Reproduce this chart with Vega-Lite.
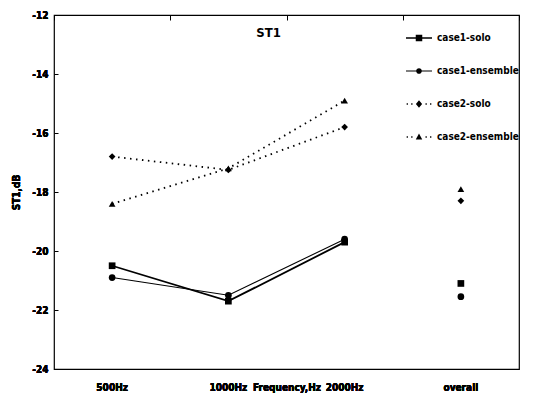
{
  "$schema": "https://vega.github.io/schema/vega-lite/v6.json",
  "width": 465,
  "height": 354,
  "autosize": "none",
  "padding": {"left": 54, "top": 15, "right": 18, "bottom": 24},
  "background": "white",
  "config": {
    "view": {"stroke": "black", "strokeWidth": 1.2},
    "font": "DejaVu Sans Condensed"
  },
  "title": {"text": "ST1", "anchor": "middle", "dx": -18, "offset": -30, "fontSize": 13, "fontWeight": "bold", "font": "DejaVu Sans Condensed", "color": "black"},
  "data": {
    "values": [
      {"series": "case1-solo", "freq": "500Hz", "value": -20.5},
      {"series": "case1-solo", "freq": "1000Hz", "value": -21.7},
      {"series": "case1-solo", "freq": "2000Hz", "value": -19.7},
      {"series": "case1-solo", "freq": "overall", "value": -21.1},
      {"series": "case1-ensemble", "freq": "500Hz", "value": -20.9},
      {"series": "case1-ensemble", "freq": "1000Hz", "value": -21.5},
      {"series": "case1-ensemble", "freq": "2000Hz", "value": -19.6},
      {"series": "case1-ensemble", "freq": "overall", "value": -21.55},
      {"series": "case2-solo", "freq": "500Hz", "value": -16.8},
      {"series": "case2-solo", "freq": "1000Hz", "value": -17.25},
      {"series": "case2-solo", "freq": "2000Hz", "value": -15.8},
      {"series": "case2-solo", "freq": "overall", "value": -18.3},
      {"series": "case2-ensemble", "freq": "500Hz", "value": -18.4},
      {"series": "case2-ensemble", "freq": "1000Hz", "value": -17.2},
      {"series": "case2-ensemble", "freq": "2000Hz", "value": -14.9},
      {"series": "case2-ensemble", "freq": "overall", "value": -17.9}
    ]
  },
  "encoding": {
    "x": {
      "field": "freq", "type": "nominal",
      "sort": ["500Hz", "1000Hz", "2000Hz", "overall"],
      "scale": {"type": "band", "paddingInner": 0, "paddingOuter": 0, "domain": ["500Hz", "1000Hz", "2000Hz", "overall"]},
      "axis": {
        "orient": "bottom", "ticks": false, "domain": false, "grid": false,
        "labelAngle": 0, "labelPadding": 13, "labelFontSize": 10, "labelFontWeight": "bold", "labelColor": "black",
        "title": "Frequency,Hz", "titleY": 18, "titleBaseline": "middle", "titleFontSize": 10, "titleFontWeight": "bold", "titleColor": "black"
      }
    },
    "y": {
      "field": "value", "type": "quantitative",
      "scale": {"domain": [-24, -12], "nice": false, "zero": false},
      "axis": {
        "orient": "left",
        "values": [-24, -22, -20, -18, -16, -14, -12],
        "labelExpr": "'' + datum.value",
        "grid": false, "domain": false, "ticks": false,
        "labelPadding": 6, "labelFontSize": 10, "labelFontWeight": "bold", "labelColor": "black",
        "title": "ST1,dB", "titleFontSize": 10, "titleFontWeight": "bold", "titleColor": "black", "titlePadding": 10
      }
    }
  },
  "layer": [
    {
      "transform": [{"filter": "datum.freq != 'overall' && datum.series == 'case1-solo'"}],
      "mark": {"type": "line", "color": "black", "strokeWidth": 1.8},
      "encoding": {}
    },
    {
      "transform": [{"filter": "datum.freq != 'overall' && datum.series == 'case1-ensemble'"}],
      "mark": {"type": "line", "color": "black", "strokeWidth": 1.1},
      "encoding": {}
    },
    {
      "transform": [{"filter": "datum.freq != 'overall' && (datum.series == 'case2-solo' || datum.series == 'case2-ensemble')"}],
      "mark": {"type": "line", "color": "black", "strokeWidth": 1.8, "strokeDash": [1.5, 4.5]},
      "encoding": {"detail": {"field": "series"}}
    },
    {
      "mark": {"type": "point", "filled": true, "color": "black", "size": 45, "opacity": 1},
      "encoding": {
        "shape": {
          "field": "series", "type": "nominal",
          "scale": {"domain": ["case1-solo", "case1-ensemble", "case2-solo", "case2-ensemble"], "range": ["square", "circle", "diamond", "triangle-up"]},
          "legend": null
        }
      }
    },
    {
      "transform": [{"filter": "datum.freq == 'overall'"}],
      "mark": {"type": "point", "filled": true, "color": "black", "opacity": 0, "size": 676},
      "encoding": {
        "shape": {
          "field": "series", "type": "nominal",
          "scale": {
            "domain": ["case1-solo", "case1-ensemble", "case2-solo", "case2-ensemble"],
            "range": [
              "M-1,-0.06H1V0.06H-1Z M-0.25,-0.25H0.25V0.25H-0.25Z",
              "M-1,-0.04H1V0.04H-1Z M-0.22,0A0.22,0.22 0 1,1 0.22,0A0.22,0.22 0 1,1 -0.22,0Z",
              "M-0.95,-0.05H-0.85V0.05H-0.95Z M-0.6,-0.05H-0.5V0.05H-0.6Z M0.5,-0.05H0.6V0.05H0.5Z M0.85,-0.05H0.95V0.05H0.85Z M0,-0.28L0.24,0L0,0.28L-0.24,0Z",
              "M-0.95,-0.05H-0.85V0.05H-0.95Z M-0.6,-0.05H-0.5V0.05H-0.6Z M0.5,-0.05H0.6V0.05H0.5Z M0.85,-0.05H0.95V0.05H0.85Z M0,-0.27L0.25,0.2L-0.25,0.2Z"
            ]
          },
          "legend": {
            "title": null, "orient": "none", "legendX": 352, "legendY": 10,
            "symbolOpacity": 1, "symbolFillColor": "black", "symbolStrokeWidth": 0, "symbolSize": 676,
            "labelFontSize": 10, "labelFontWeight": "bold", "labelColor": "black", "labelOffset": 5,
            "rowPadding": 15
          }
        }
      }
    },
    {
      "mark": {"type": "rule", "opacity": 0},
      "encoding": {
        "x": {"field": "freq", "type": "nominal", "axis": {"orient": "top", "offset": -5, "labels": false, "domain": false, "grid": false, "title": null, "tickBand": "extent", "tickSize": 5, "tickColor": "black", "tickWidth": 1}},
        "y": {"field": "value", "type": "quantitative", "axis": {"orient": "left", "offset": -4, "values": [-24, -22, -20, -18, -16, -14, -12], "labels": false, "domain": false, "grid": false, "title": null, "tickSize": 4, "tickColor": "black", "tickWidth": 1}}
      }
    }
  ],
  "resolve": {"scale": {"shape": "independent"}, "axis": {"x": "independent", "y": "independent"}}
}
